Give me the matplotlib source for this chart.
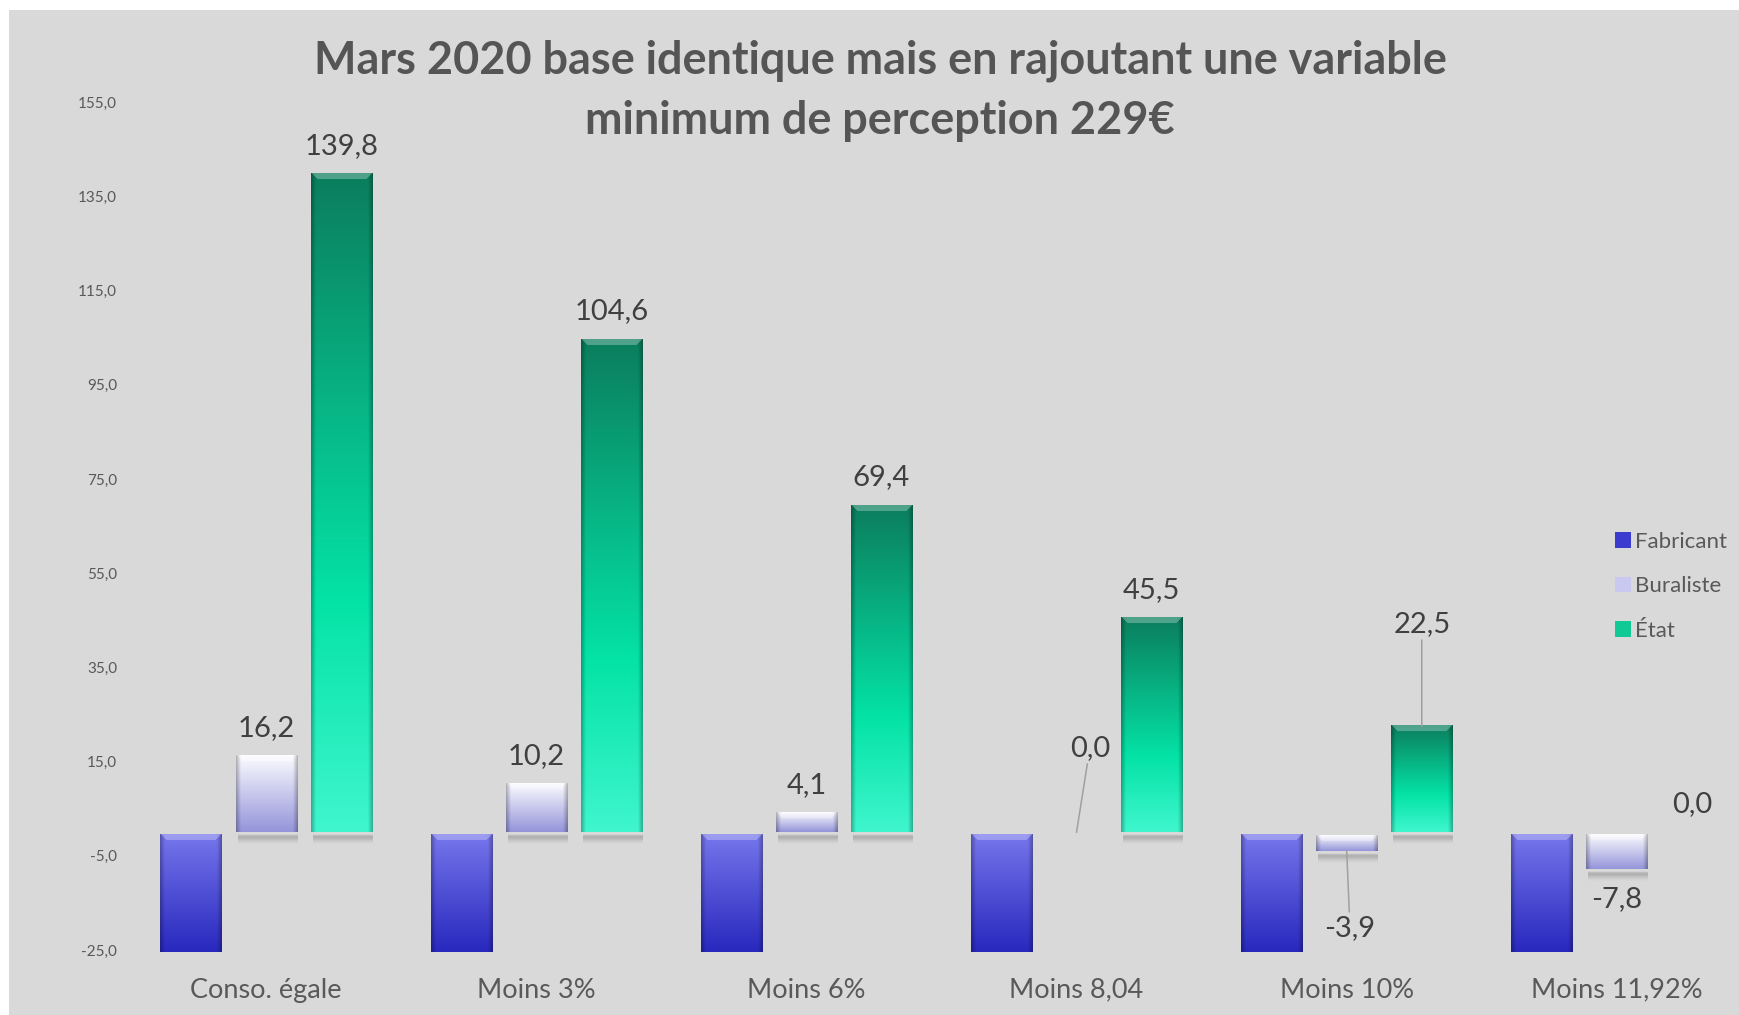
import numpy as np
import matplotlib
matplotlib.use("Agg")
import matplotlib.pyplot as plt
from matplotlib.colors import to_rgb
from matplotlib.patches import Rectangle, Patch

# ---------------- data ----------------
categories = ["Conso. égale", "Moins 3%", "Moins 6%", "Moins 8,04", "Moins 10%", "Moins 11,92%"]
series_names = ["Fabricant", "Buraliste", "État"]
fabricant = [-60.0, -60.0, -60.0, -60.0, -60.0, -60.0]   # off-scale below the axis, not labelled
buraliste = [16.2, 10.2, 4.1, 0.0, -3.9, -7.8]
etat = [139.8, 104.6, 69.4, 45.5, 22.5, 0.0]
y_ticks = [-25.0, -5.0, 15.0, 35.0, 55.0, 75.0, 95.0, 115.0, 135.0, 155.0]
title_lines = ["Mars 2020 base identique mais en rajoutant une variable",
               "minimum de perception 229€"]

plt.rcParams["font.family"] = ["Lato", "DejaVu Sans"]

W, H, DPI = 1740, 1015, 100
fig = plt.figure(figsize=(W / DPI, H / DPI), dpi=DPI, facecolor="white")
fig.patches.append(Rectangle((9 / W, 0), 1 - 9 / W, 1 - 10 / H, transform=fig.transFigure,
                             facecolor="#D9D9D9", edgecolor="none", zorder=-5))

ax = fig.add_axes([131 / W, 63 / H, (W - 131) / W, (952 - 102) / H])
ax.set_zorder(2)
ax.patch.set_visible(False)
XLIM = (-0.5, 5.456)
YLIM = (-25.4, 155)
for s in ax.spines.values():
    s.set_visible(False)

ax.set_yticks(y_ticks)
ax.set_yticklabels([f"{v:.1f}".replace(".", ",") for v in y_ticks])
ax.tick_params(axis="y", length=0, pad=10, labelsize=11, labelcolor="#595959")
ax.set_xticks(range(len(categories)))
ax.set_xticklabels(categories)
ax.tick_params(axis="x", length=0, pad=18.5, labelsize=19.5, labelcolor="#595959")

px_x = ax.bbox.width / (XLIM[1] - XLIM[0])
px_y = ax.bbox.height / (YLIM[1] - YLIM[0])

styles = {
    "Fabricant": [(0.0, "#7676EC"), (1.0, "#2828BE")],
    "Buraliste": [(0.0, "#FCFCFF"), (1.0, "#9494DA")],
    "État": [(0.0, "#0B7D5D"), (0.65, "#04E3A6"), (1.0, "#40F6CE")],
}


def bar_image(w_px, h_px, stops, bevel=6.0):
    rows = max(int(round(h_px)), 1)
    cols = max(int(round(w_px)), 2)
    t = (np.arange(rows) + 0.5) / rows
    pos = [s[0] for s in stops]
    rgb = np.stack([np.interp(t, pos, [to_rgb(s[1])[k] for s in stops]) for k in range(3)], axis=-1)
    img = np.repeat(rgb[:, None, :], cols, axis=1)
    c = np.arange(cols) + 0.5
    dist = np.minimum(c, cols - c)
    side = 1 - 0.30 * np.clip(1 - dist / 5.0, 0, 1)
    img = img * side[None, :, None]
    r = np.arange(rows) + 0.5
    b = min(bevel, rows / 2)
    R, C = np.meshgrid(r, c, indexing="ij")
    top_face = (R < b) & (C > R) & (C < cols - R)
    img[top_face] = img[top_face] * 0.72 + 0.28
    return np.clip(img, 0, 1)


def shadow(ax, x0, x1, y_edge):
    n = 12
    a = np.array([0.0, 0.05, 0.22, 0.30, 0.30, 0.26, 0.2, 0.14, 0.09, 0.05, 0.02, 0.0])
    img = np.zeros((n, 8, 4))
    img[..., :3] = 0.35
    img[..., 3] = a[:, None]
    ax.imshow(img, extent=(x0 + 2 / px_x, x1, y_edge - n / px_y, y_edge), origin="upper",
              aspect="auto", interpolation="bilinear", zorder=2)


width = 0.226
offsets = [-0.278, 0.0, 0.278]
all_series = [fabricant, buraliste, etat]
gap = 2.5 / px_y   # small visual gap under the zero line for negative bars

for si, (name, vals) in enumerate(zip(series_names, all_series)):
    for ci, v in enumerate(vals):
        x = ci + offsets[si]
        if v == 0:
            continue
        top = v if v > 0 else -gap
        bot = 0.0 if v > 0 else max(v, YLIM[0])
        img = bar_image(width * px_x, (top - bot) * px_y, styles[name])
        ax.imshow(img, extent=(x - width / 2, x + width / 2, bot, top), origin="upper",
                  aspect="auto", interpolation="bilinear", zorder=3)
        if v > 0:
            shadow(ax, x - width / 2, x + width / 2, 0.0 - 1 / px_y)
        elif name != "Fabricant":
            shadow(ax, x - width / 2, x + width / 2, v - 1 / px_y)

# data labels (Fabricant is off-scale and carries no label)
special = {("Buraliste", 3): (9.6, 60.7), ("Buraliste", 4): (2.4, -55.5), ("État", 4): (0.0, 73.5)}
for si, (name, vals) in enumerate(zip(series_names, all_series)):
    if name == "Fabricant":
        continue
    for ci, v in enumerate(vals):
        x = ci + offsets[si]
        txt = f"{v:.1f}".replace(".", ",")
        key = (name, ci)
        if key in special:
            dx, dy = special[key]
            ax.annotate(txt, xy=(x, v), xytext=(dx, dy), textcoords="offset points",
                        ha="center", va="center", fontsize=21, color="#404040",
                        arrowprops=dict(arrowstyle="-", color="#A0A0A0", lw=1.1,
                                        shrinkA=0, shrinkB=0), zorder=5)
        else:
            dy = 20.2 if v >= 0 else -21.5
            ax.annotate(txt, xy=(x, v), xytext=(0, dy), textcoords="offset points",
                        ha="center", va="center", fontsize=21, color="#404040", zorder=5)

ax.set_xlim(*XLIM)
ax.set_ylim(*YLIM)

# title
fig.text(880 / W, 1 - 61 / H, title_lines[0], ha="center", va="center", fontsize=32.4,
         fontweight="bold", color="#555555")
fig.text(880 / W, 1 - 121 / H, title_lines[1], ha="center", va="center", fontsize=32.4,
         fontweight="bold", color="#555555")

# legend
handles = [Patch(facecolor=c, edgecolor="none") for c in ["#3B3BCF", "#C8C8F0", "#10C994"]]
fig.legend(handles, series_names, loc="upper left", bbox_to_anchor=(1615 / W, 1 - 532 / H),
           frameon=False, fontsize=16, labelcolor="#595959", handlelength=0.7,
           handleheight=0.7, handletextpad=0.2, labelspacing=1.1, borderpad=0, borderaxespad=0)

fig.savefig("out.png", dpi=DPI, facecolor=fig.get_facecolor())
